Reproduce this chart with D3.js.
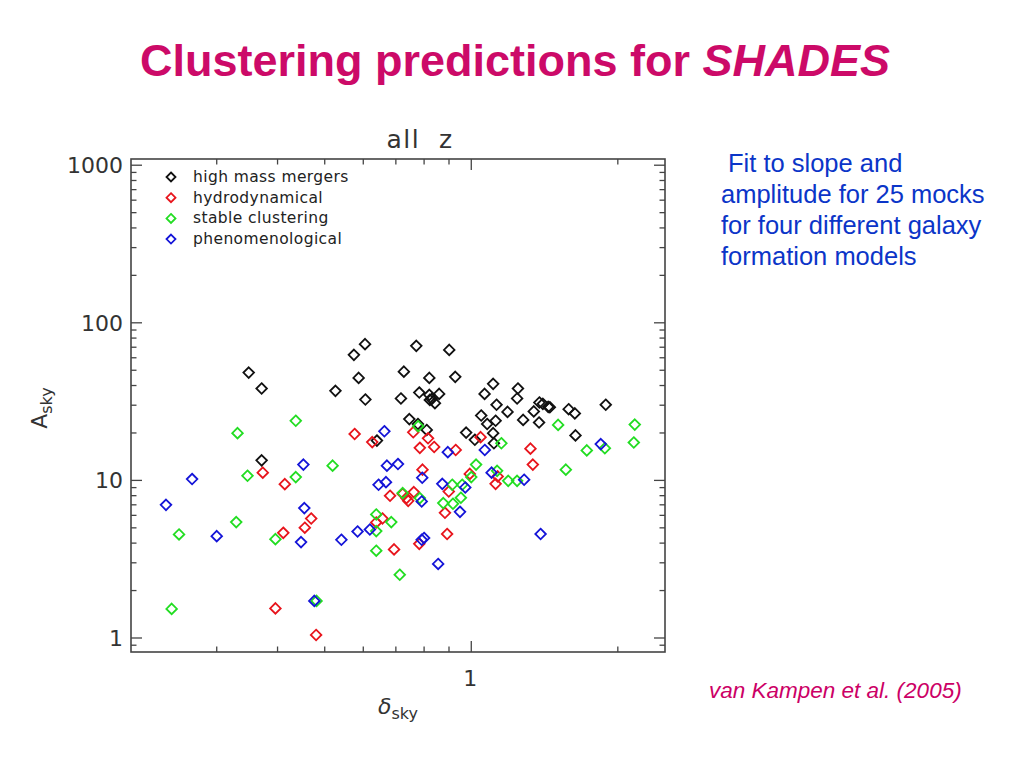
<!DOCTYPE html>
<html>
<head>
<meta charset="utf-8">
<script src="https://cdnjs.cloudflare.com/ajax/libs/d3/7.8.5/d3.min.js"></script>
<style>
  body { margin: 0; background: #fff; }
  text { font-family: "DejaVu Sans", sans-serif; }
</style>
</head>
<body>
<svg width="1024" height="768"></svg>
<script>
// values: [delta_sky, A_sky]
var mergers = [
  [0.349, 48.3], [0.371, 38.3], [0.371, 13.4], [0.605, 73.2], [0.574, 62.6], [0.587, 44.7],
  [0.526, 37.0], [0.606, 32.6], [0.640, 17.9], [0.771, 71.4], [0.901, 67.3], [0.727, 49.0],
  [0.820, 44.7], [0.927, 45.4], [0.782, 36.1], [0.717, 33.1], [0.820, 34.9], [0.859, 35.4],
  [0.822, 32.4], [0.829, 32.8], [0.842, 30.9], [1.109, 41.0], [1.065, 35.4], [1.247, 38.3],
  [1.242, 33.1], [1.127, 30.2], [1.187, 27.2], [1.048, 25.8], [1.122, 23.9], [1.078, 22.8],
  [1.278, 24.2], [1.380, 31.2], [1.403, 30.6], [1.439, 29.3], [1.450, 29.1], [1.344, 27.4],
  [1.378, 23.3], [1.585, 28.3], [1.632, 26.6], [1.637, 19.3], [1.889, 30.2], [0.746, 24.5],
  [0.810, 20.9], [0.976, 20.1], [1.017, 18.1], [1.109, 19.95], [1.113, 17.2], [0.777, 22.8]
];
var hydro = [
  [0.373, 11.2], [0.396, 1.54], [0.576, 19.7], [0.626, 17.5], [0.414, 9.47], [0.411, 4.65],
  [0.455, 5.01], [0.469, 5.73], [0.681, 7.99], [0.638, 5.41], [0.657, 5.73], [0.694, 3.65],
  [0.480, 1.045], [0.760, 20.2], [0.815, 18.5], [0.784, 16.1], [0.839, 16.3], [0.929, 15.6],
  [1.045, 18.8], [0.794, 11.7], [0.993, 11.0], [1.323, 15.9], [1.338, 12.6], [1.122, 9.51],
  [1.133, 10.6], [0.723, 8.22], [0.736, 7.72], [0.742, 7.42], [0.762, 8.43], [0.899, 8.50],
  [0.883, 6.23], [0.892, 4.57], [0.782, 3.96]
];
var stable = [
  [0.331, 19.95], [0.347, 10.7], [0.251, 4.54], [0.329, 5.44], [0.2424, 1.53], [0.396, 4.24],
  [0.436, 23.9], [0.436, 10.5], [0.519, 12.4], [0.638, 6.08], [0.685, 5.44], [0.638, 4.77],
  [0.638, 3.58], [0.713, 2.52], [0.481, 1.72], [0.723, 8.31], [0.778, 22.1], [1.153, 17.2],
  [1.023, 12.6], [1.000, 10.5], [0.958, 9.38], [0.914, 9.38], [0.876, 7.18], [0.917, 7.11],
  [0.952, 7.76], [0.784, 7.72], [1.130, 11.5], [1.191, 9.94], [1.242, 9.94], [1.508, 22.5],
  [1.564, 11.7], [1.727, 15.5], [1.881, 16.0], [2.167, 22.6], [2.157, 17.4]
];
var pheno = [
  [0.267, 10.2], [0.236, 7.00], [0.300, 4.43], [0.663, 20.5], [0.452, 12.6], [0.671, 12.4],
  [0.707, 12.7], [0.645, 9.38], [0.668, 9.75], [0.454, 6.67], [0.447, 4.06], [0.541, 4.20],
  [0.584, 4.74], [0.619, 4.88], [0.476, 1.72], [0.895, 15.1], [1.066, 15.6], [0.793, 10.4],
  [0.872, 9.51], [0.972, 9.02], [1.101, 11.2], [1.284, 10.1], [0.791, 7.35], [0.948, 6.32],
  [0.791, 4.20], [0.800, 4.31], [0.855, 2.95], [1.388, 4.57], [1.845, 17.0]
];

var seriesNames = ["high mass mergers", "hydrodynamical", "stable clustering", "phenomenological"];
var seriesColors = ["#111111", "#e8141c", "#22dd22", "#1414d8"];
var seriesData = [mergers, hydro, stable, pheno];

var yTickLabels = [1, 10, 100, 1000];
var xTickLabels = [1];

var notes = ["Fit to slope and", "amplitude for 25 mocks", "for four different galaxy", "formation models"];

var svg = d3.select("svg");

// frame of the plot (window.top is taken, so prefixed names)
var pLeft = 131, pRight = 665, pTop = 159, pBottom = 652;

var x = d3.scaleLog().domain([0.2, 2.5]).range([pLeft, pRight]);
var y = d3.scaleLog().domain([0.815, 1095]).range([pBottom, pTop]);

// slide title
var title = svg.append("text")
    .attr("x", 515).attr("y", 76)
    .attr("text-anchor", "middle")
    .style("font-family", "'Liberation Sans', Arial, sans-serif")
    .style("font-size", "45px").style("font-weight", "bold")
    .style("fill", "#cc0a68");
title.append("tspan").text("Clustering predictions for ");
title.append("tspan").style("font-style", "italic").text("SHADES");

// plot title
svg.append("text")
    .attr("x", 420).attr("y", 148)
    .attr("text-anchor", "middle")
    .style("font-size", "25px").style("fill", "#333")
    .style("letter-spacing", "1.5px")
    .style("white-space", "pre")
    .text("all  z");

// frame
svg.append("rect")
    .attr("x", pLeft).attr("y", pTop)
    .attr("width", pRight - pLeft).attr("height", pBottom - pTop)
    .style("fill", "none").style("stroke", "#444").style("stroke-width", 1.6);

var isMajor = function (v) { return Math.abs(Math.log10(v) - Math.round(Math.log10(v))) < 1e-6; };

// y ticks on both sides
var yTicks = y.ticks();
var gy = svg.append("g");
gy.selectAll("line.l").data(yTicks).enter().append("line")
    .attr("x1", pLeft).attr("x2", function (d) { return pLeft + (isMajor(d) ? 11 : 5.5); })
    .attr("y1", function (d) { return y(d); }).attr("y2", function (d) { return y(d); })
    .style("stroke", "#444").style("stroke-width", 1.3);
gy.selectAll("line.r").data(yTicks).enter().append("line")
    .attr("x1", pRight).attr("x2", function (d) { return pRight - (isMajor(d) ? 11 : 5.5); })
    .attr("y1", function (d) { return y(d); }).attr("y2", function (d) { return y(d); })
    .style("stroke", "#444").style("stroke-width", 1.3);

// x ticks on bottom and top
var xTicks = x.ticks().filter(function (d) { return d > 0.2001; });
var gx = svg.append("g");
gx.selectAll("line.b").data(xTicks).enter().append("line")
    .attr("x1", function (d) { return x(d); }).attr("x2", function (d) { return x(d); })
    .attr("y1", pBottom).attr("y2", function (d) { return pBottom - (isMajor(d) ? 11 : 5.5); })
    .style("stroke", "#444").style("stroke-width", 1.3);
gx.selectAll("line.t").data(xTicks).enter().append("line")
    .attr("x1", function (d) { return x(d); }).attr("x2", function (d) { return x(d); })
    .attr("y1", pTop).attr("y2", function (d) { return pTop + (isMajor(d) ? 11 : 5.5); })
    .style("stroke", "#444").style("stroke-width", 1.3);

// tick labels
svg.selectAll("text.yl").data(yTickLabels).enter().append("text")
    .attr("x", pLeft - 8).attr("y", function (d) { return y(d) + 8; })
    .attr("text-anchor", "end")
    .style("font-size", "22px").style("fill", "#333")
    .text(function (d) { return d; });
svg.selectAll("text.xl").data(xTickLabels).enter().append("text")
    .attr("x", function (d) { return x(d) - 1; }).attr("y", pBottom + 34)
    .attr("text-anchor", "middle")
    .style("font-size", "22px").style("fill", "#333")
    .text(function (d) { return d; });

// axis titles
var ya = svg.append("text")
    .attr("transform", "translate(47,408) rotate(-90)")
    .attr("text-anchor", "middle")
    .style("font-size", "22px").style("fill", "#333");
ya.append("tspan").text("A");
ya.append("tspan").attr("dy", 5).style("font-size", "16px").text("sky");

var xa = svg.append("text")
    .attr("x", 398).attr("y", 714)
    .attr("text-anchor", "middle")
    .style("font-size", "22px").style("fill", "#333");
xa.append("tspan").style("font-style", "italic").text("δ");
xa.append("tspan").attr("dy", 5).style("font-size", "16px").text("sky");

// diamonds
var diamond = function (cx, cy, r) {
    return "M" + cx + "," + (cy - r) + "L" + (cx + r) + "," + cy + "L" + cx + "," + (cy + r) + "L" + (cx - r) + "," + cy + "Z";
};

seriesData.forEach(function (data, i) {
    svg.append("g").selectAll("path")
        .data(data)
        .enter().append("path")
        .attr("d", function (d) { return diamond(x(d[0]), y(d[1]), 5.3); })
        .style("fill", "none")
        .style("stroke", seriesColors[i])
        .style("stroke-width", 1.8);
});

// legend
var lg = svg.append("g");
seriesNames.forEach(function (name, i) {
    var ly = 177 + i * 20.7;
    lg.append("path")
        .attr("d", diamond(171, ly, 4.5))
        .style("fill", "none").style("stroke", seriesColors[i]).style("stroke-width", 1.8);
    lg.append("text")
        .attr("x", 193).attr("y", ly + 5)
        .style("font-size", "15.5px").style("letter-spacing", "0.4px").style("fill", "#222")
        .text(name);
});

// side note
svg.selectAll("text.note").data(notes).enter().append("text")
    .attr("x", function (d, i) { return i == 0 ? 728 : 721; })
    .attr("y", function (d, i) { return 172 + i * 31; })
    .style("font-family", "'Liberation Sans', Arial, sans-serif")
    .style("font-size", "25.5px").style("fill", "#0b35c8")
    .text(function (d) { return d; });

svg.append("text")
    .attr("x", 709).attr("y", 698)
    .style("font-family", "'Liberation Sans', Arial, sans-serif")
    .style("font-size", "22.5px").style("font-style", "italic").style("fill", "#cc0066")
    .text("van Kampen et al. (2005)");
</script>
</body>
</html>
